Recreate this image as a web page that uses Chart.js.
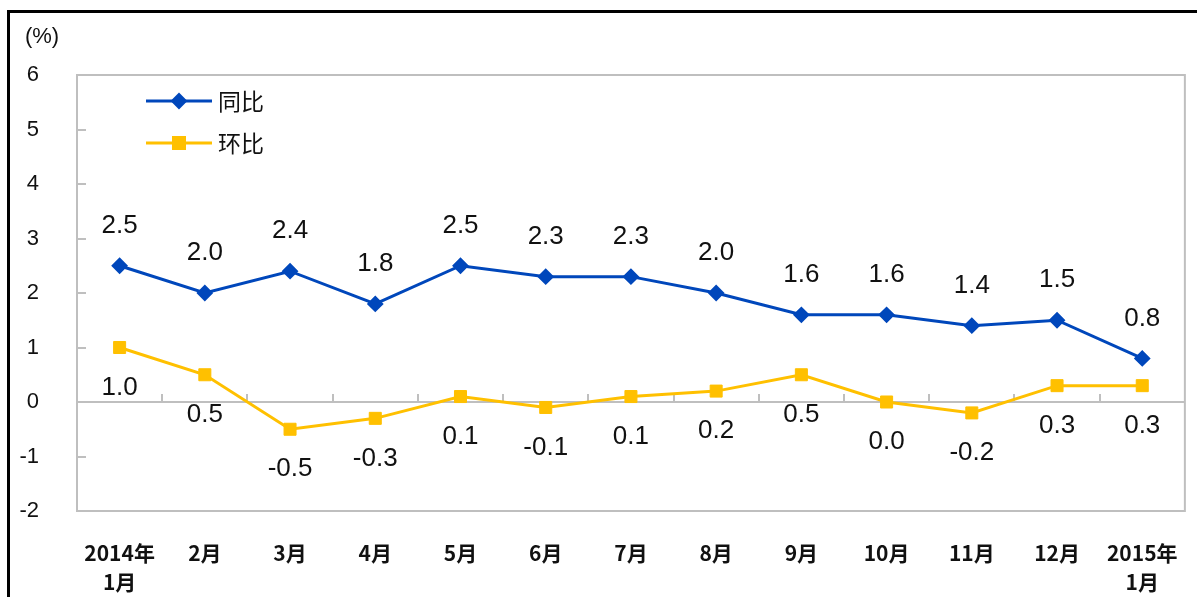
<!DOCTYPE html>
<html><head><meta charset="utf-8">
<script src="https://cdn.jsdelivr.net/npm/chart.js@4/dist/chart.umd.min.js"></script>
<style>html,body{margin:0;padding:0;background:#fff;}canvas{display:block;}</style>
</head><body>
<canvas id="c" width="1197" height="597"></canvas>
<script>
const categories = [["2014年","1月"],"2月","3月","4月","5月","6月","7月","8月","9月","10月","11月","12月",["2015年","1月"]];
const yoyLabel = "同比";
const momLabel = "环比";
const yoyValues = [2.5,2.0,2.4,1.8,2.5,2.3,2.3,2.0,1.6,1.6,1.4,1.5,0.8];
const momValues = [1.0,0.5,-0.5,-0.3,0.1,-0.1,0.1,0.2,0.5,0.0,-0.2,0.3,0.3];
const yTicks = [-2,-1,0,1,2,3,4,5,6];
const unitLabel = "(%)";

const BLUE = '#0047BB';
const GOLD = '#FFC000';
const GRAY = '#BFBFBF';

function marker(ctx, style, x, y, r, color){
  ctx.save();
  ctx.fillStyle = color; ctx.strokeStyle = color; ctx.lineWidth = 2;
  ctx.beginPath();
  if (style === 'rectRot') {
    ctx.moveTo(x - r, y); ctx.lineTo(x, y - r); ctx.lineTo(x + r, y); ctx.lineTo(x, y + r); ctx.closePath();
  } else {
    const s = r * Math.SQRT1_2;
    ctx.rect(x - s, y - s, 2 * s, 2 * s);
  }
  ctx.fill(); ctx.stroke();
  ctx.restore();
}

const deco = {
  id: 'deco',
  beforeDraw(chart){
    const ctx = chart.ctx, a = chart.chartArea;
    const y = chart.scales.y, x = chart.scales.x;
    ctx.save();
    ctx.fillStyle = '#fff'; ctx.fillRect(0, 0, chart.width, chart.height);
    ctx.fillStyle = '#000';
    ctx.fillRect(7, 10, 3, chart.height - 10);
    ctx.fillRect(7, 10, chart.width - 7, 3);
    ctx.strokeStyle = GRAY; ctx.lineWidth = 2;
    ctx.strokeRect(a.left, a.top, a.right - a.left, a.bottom - a.top);
    ctx.beginPath();
    yTicks.forEach(v => { const py = Math.round(y.getPixelForValue(v)); ctx.moveTo(a.left, py); ctx.lineTo(a.left + 9, py); });
    const zy = Math.round(y.getPixelForValue(0));
    ctx.moveTo(a.left, zy); ctx.lineTo(a.right, zy);
    for (let i = 1; i < categories.length; i++) {
      const px = Math.round((x.getPixelForValue(i - 1) + x.getPixelForValue(i)) / 2);
      ctx.moveTo(px, zy); ctx.lineTo(px, zy - 8);
    }
    ctx.stroke();
    ctx.fillStyle = '#111';
    ctx.font = '22px "Liberation Sans", Arial, sans-serif';
    ctx.textAlign = 'center'; ctx.textBaseline = 'middle';
    ctx.fillText(unitLabel, 42, 37);
    ctx.restore();
  },
  afterDatasetsDraw(chart){
    const ctx = chart.ctx;
    ctx.save();
    ctx.font = '26px "Liberation Sans", Arial, sans-serif';
    ctx.fillStyle = '#111';
    ctx.textAlign = 'center'; ctx.textBaseline = 'middle';
    chart.data.datasets.forEach((ds, i) => {
      const meta = chart.getDatasetMeta(i);
      const dy = i === 0 ? -40 : 40;
      meta.data.forEach((pt, j) => {
        ctx.fillText(ds.data[j].toFixed(1), pt.x, pt.y + dy);
      });
    });
    const rows = [101, 143];
    chart.data.datasets.forEach((ds, i) => {
      const ly = rows[i];
      ctx.strokeStyle = ds.borderColor; ctx.lineWidth = 3;
      ctx.beginPath(); ctx.moveTo(146, ly); ctx.lineTo(212, ly); ctx.stroke();
      marker(ctx, ds.pointStyle, 179, ly, ds.pointRadius, ds.borderColor);
      ctx.fillStyle = '#111';
      ctx.font = '23px "Noto Sans CJK SC", sans-serif';
      ctx.textAlign = 'left'; ctx.textBaseline = 'middle';
      ctx.fillText(ds.label, 218, ly);
    });
    ctx.restore();
  }
};

new Chart(document.getElementById('c'), {
  type: 'line',
  data: {
    labels: categories,
    datasets: [
      { label: yoyLabel, data: yoyValues, borderColor: BLUE, backgroundColor: BLUE, borderWidth: 3,
        pointStyle: 'rectRot', pointRadius: 7, pointBorderWidth: 2, tension: 0 },
      { label: momLabel, data: momValues, borderColor: GOLD, backgroundColor: GOLD, borderWidth: 3,
        pointStyle: 'rect', pointRadius: 8.5, pointBorderWidth: 1, tension: 0 }
    ]
  },
  options: {
    responsive: false,
    animation: false,
    devicePixelRatio: 1,
    layout: { padding: { left: 0, top: 75, right: 12, bottom: 0 } },
    plugins: { legend: { display: false }, tooltip: { enabled: false } },
    scales: {
      x: {
        offset: true,
        grid: { display: false },
        border: { display: false },
        ticks: {
          autoSkip: false, maxRotation: 0, minRotation: 0, padding: 19, color: '#111',
          font: { family: '"Noto Sans CJK SC", sans-serif', size: 21, weight: 'bold', lineHeight: 1.4 }
        },
        afterFit(s) { s.height = 86; }
      },
      y: {
        min: -2, max: 6,
        grid: { display: false },
        border: { display: false },
        ticks: {
          stepSize: 1, padding: 30, color: '#111',
          font: { family: '"Liberation Sans", Arial, sans-serif', size: 22 }
        },
        afterFit(s) { s.width = 77; }
      }
    }
  },
  plugins: [deco]
});
</script>
</body></html>
